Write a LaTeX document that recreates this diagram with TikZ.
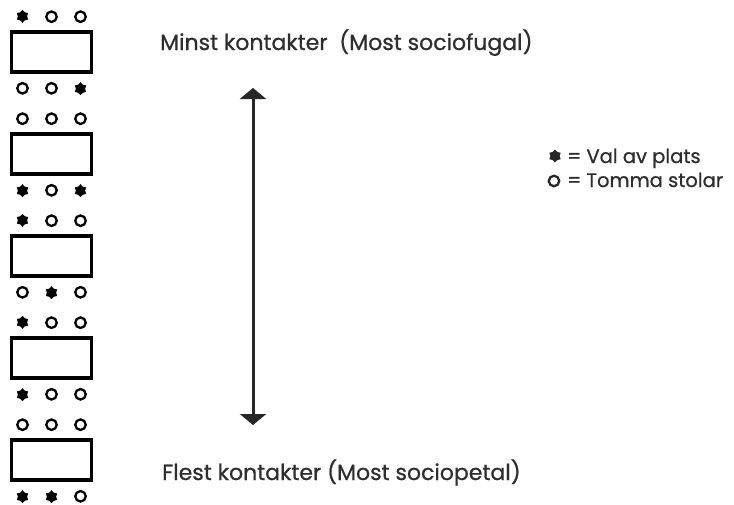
\documentclass[tikz,border=0pt]{standalone}
\usepackage{fontspec}
\setmainfont{Poppins}[FakeBold=0.8]
\usetikzlibrary{arrows.meta,positioning,shapes.geometric}

\begin{document}
\begin{tikzpicture}[x=1pt,y=-1pt,>={Triangle[width=26pt,length=11pt]},
  table/.style={draw,line width=3.8pt,minimum width=80pt,minimum height=40pt,inner sep=0pt},
  seat/.style={circle,draw,line width=2.3pt,minimum size=10.5pt,inner sep=0pt},
  pick/.style={star,star points=6,star point ratio=1.4,fill,minimum size=13pt,inner sep=0pt},
  txt/.style={font=\fontsize{22}{26}\selectfont,text=black!82,inner sep=0pt,anchor=base west},
  key/.style={txt,font=\fontsize{19.5}{23}\selectfont}]
  \useasboundingbox (0,0) rectangle (734,504);
  % bord med stolar ovanfor / nedanfor
  \foreach \n/\up/\down [count=\i from 0] in {%
      1/{pick,seat,seat}/{seat,seat,pick},
      2/{seat,seat,seat}/{pick,seat,pick},
      3/{pick,seat,seat}/{seat,pick,seat},
      4/{pick,seat,seat}/{pick,seat,seat},
      5/{seat,seat,seat}/{pick,pick,seat}}
  {
    \node[table] (t\n) at (51.5,52+102*\i) {};
    \foreach \s [count=\k from -1] in \up
      \node[\s,above=7pt of t\n,xshift=29pt*\k] (t\n u\k) {};
    \foreach \s [count=\k from -1] in \down
      \node[\s,below=8pt of t\n,xshift=29pt*\k] (t\n d\k) {};
  }
  % skala
  \coordinate (few) at (253,88);
  \coordinate (many) at (253,425);
  \draw[<->,line width=3pt,black!85] (few) -- (many);
  \node[txt] (minst) at (160,50) {Minst kontakter \ (Most sociofugal)};
  \node[txt] (flest) at (162,480) {Flest kontakter (Most sociopetal)};
  % teckenforklaring
  \node[pick,black!85] (lpick) at (555,156) {};
  \node[key] (lval) at (567,163) {= Val av plats};
  \node[seat,black!85] (lseat) at (554,181) {};
  \node[key] (ltom) at (567,187) {= Tomma stolar};
\end{tikzpicture}
\end{document}
